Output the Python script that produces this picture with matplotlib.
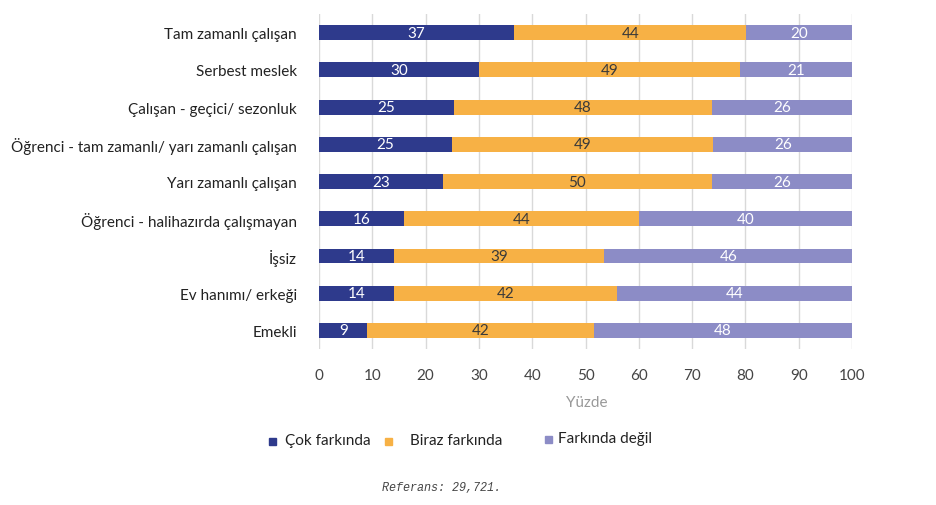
import numpy as np
import matplotlib.pyplot as plt

categories = ["Tam zamanlı çalışan", "Serbest meslek", "Çalışan - geçici/ sezonluk",
              "Öğrenci - tam zamanlı/ yarı zamanlı çalışan", "Yarı zamanlı çalışan",
              "Öğrenci - halihazırda çalışmayan", "İşsiz", "Ev hanımı/ erkeği", "Emekli"]
cok = [37, 30, 25, 25, 23, 16, 14, 14, 9]
biraz = [44, 49, 48, 49, 50, 44, 39, 42, 42]
degil = [20, 21, 26, 26, 26, 40, 46, 44, 48]
series_names = ["Çok farkında", "Biraz farkında", "Farkında değil"]
colors = ["#2e3a8c", "#f7b145", "#8c8cc6"]
text_colors = ["white", "#3a3a3a", "white"]

plt.rcParams['font.family'] = ['Lato', 'DejaVu Sans']

fig = plt.figure(figsize=(9.36, 5.06), dpi=100)
ax = fig.add_axes([319/936, 1-350/506, (852-319)/936, 335/506])

vals = np.array([cok, biraz, degil], dtype=float)
widths = vals / vals.sum(axis=0) * 100  # segments fill the bar to 100
y = np.arange(len(categories))
left = np.zeros(len(categories))
for i in range(3):
    ax.barh(y, widths[i], left=left, height=0.4, color=colors[i], zorder=3)
    for j in range(len(categories)):
        ax.text(left[j] + widths[i][j] / 2, y[j], str(int(vals[i][j])),
                ha='center', va='center', color=text_colors[i], fontsize=11, zorder=4)
    left += widths[i]

ax.set_xlim(0, 100)
ax.set_ylim(len(categories) - 0.5, -0.5)
ax.set_xticks(range(0, 101, 10))
ax.set_yticks(y)
ax.set_yticklabels(categories, fontsize=11, color="#222222")
ax.tick_params(axis='both', length=0)
ax.tick_params(axis='x', pad=14, labelsize=11, labelcolor="#444444")
ax.tick_params(axis='y', pad=16)
ax.grid(axis='x', color="#d9d9d9", linewidth=1, zorder=0)
for s in ax.spines.values():
    s.set_visible(False)

fig.text(587/936, 1-403/506, "Yüzde", ha='center', va='center', fontsize=11, color="#999999")

# legend
leg_items = [(272, 285, 441), (388, 410, 441), (548, 558, 439)]
for (mx, tx, ty), name, c in zip(leg_items, series_names, colors):
    fig.patches.append(plt.Rectangle((mx/936 - 3.5/936, 1-(ty+1)/506 - 3.5/506), 7/936, 7/506,
                                     transform=fig.transFigure, color=c, figure=fig))
    fig.text(tx/936, 1-ty/506, name, ha='left', va='center', fontsize=11, color="#222222")

fig.text(442/936, 1-488/506, "Referans: 29,721.", ha='center', va='center',
         fontsize=8.5, style='italic', family='Liberation Mono', color="#444444")

fig.savefig("out.png", dpi=100)
